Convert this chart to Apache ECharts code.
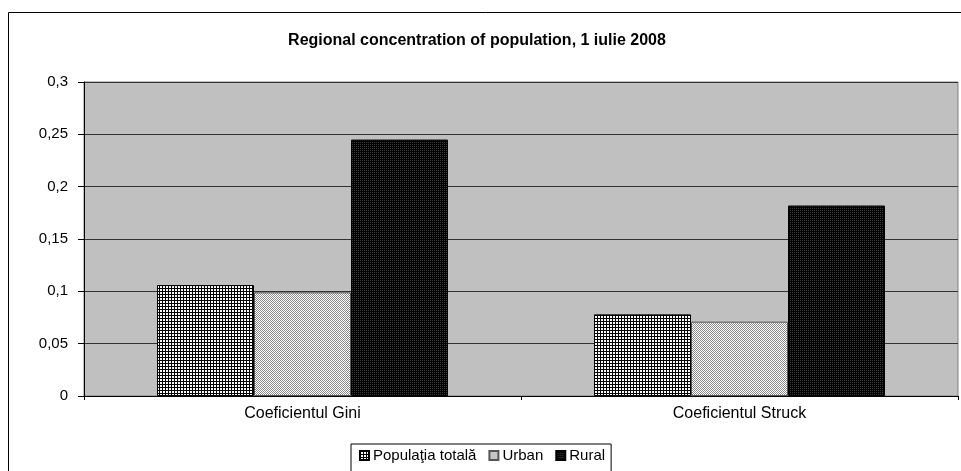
<!DOCTYPE html>
<html lang="ro">
<head>
    <meta charset="UTF-8">
    <title>Regional concentration of population</title>
    <script src="https://cdn.jsdelivr.net/npm/echarts@6/dist/echarts.min.js"></script>
    <style>
        * { margin: 0; padding: 0 }
        html, body { width: 100%; height: 100%; background: #fff; }
        #main { width: 961px; height: 471px; }
    </style>
</head>
<body>
<div id="main"></div>
<script type="text/javascript">
    // data
    var categories = ['Coeficientul Gini', 'Coeficientul Struck'];
    var seriesNames = ['Populaţia totală', 'Urban', 'Rural'];
    var populatie = [0.106, 0.078];
    var urban = [0.099, 0.071];
    var rural = [0.245, 0.182];
    var yTicks = [0, 0.05, 0.1, 0.15, 0.2, 0.25, 0.3];

    // small tiles to imitate the old Excel hatch fills
    function makeTile(size, draw) {
        var c = document.createElement('canvas');
        c.width = size;
        c.height = size;
        draw(c.getContext('2d'));
        return {image: c, repeat: 'repeat'};
    }
    var gridFill = makeTile(3, function (g) {
        g.fillStyle = '#fff';
        g.fillRect(0, 0, 3, 3);
        g.fillStyle = '#000';
        g.fillRect(0, 0, 3, 1);
        g.fillRect(0, 0, 1, 3);
    });
    var dotFill = makeTile(2, function (g) {
        g.fillStyle = '#fff';
        g.fillRect(0, 0, 2, 2);
        g.fillStyle = '#8c8c8c';
        g.fillRect(0, 0, 1, 1);
        g.fillRect(1, 1, 1, 1);
    });
    var darkFill = makeTile(2, function (g) {
        g.fillStyle = '#000';
        g.fillRect(0, 0, 2, 2);
        g.fillStyle = '#3a3a3a';
        g.fillRect(0, 0, 1, 1);
    });

    var font = 'Liberation Sans, Arial, sans-serif';
    var myChart = echarts.init(document.getElementById('main'));

    var option = {
        animation: false,
        textStyle: {fontFamily: font},
        title: {
            text: 'Regional concentration of population, 1 iulie 2008',
            left: 472,
            textAlign: 'center',
            top: 28,
            textStyle: {fontSize: 16, fontWeight: 'bold', color: '#000', fontFamily: font}
        },
        graphic: [{
            type: 'rect',
            silent: true,
            shape: {x: 8.5, y: 12.5, width: 1000, height: 1000},
            style: {fill: 'none', stroke: '#000', lineWidth: 1}
        }],
        legend: {
            data: seriesNames,
            left: 351,
            top: 444,
            itemWidth: 9,
            itemHeight: 9,
            itemGap: 12,
            padding: [4, 6, 12, 8],
            borderColor: '#000',
            borderWidth: 1,
            backgroundColor: '#fff',
            icon: 'rect',
            textStyle: {fontSize: 15, color: '#000', fontFamily: font, padding: [0, 0, 0, -1]}
        },
        grid: {
            left: 84,
            right: 3,
            top: 82,
            bottom: 75,
            show: true,
            backgroundColor: '#c0c0c0',
            borderColor: '#808080',
            borderWidth: 1
        },
        xAxis: {
            type: 'category',
            data: categories,
            axisLine: {lineStyle: {color: '#000', width: 1}},
            axisTick: {show: true, length: 4, lineStyle: {color: '#000'}},
            axisLabel: {fontSize: 16, color: '#000', margin: 10, fontFamily: font}
        },
        yAxis: {
            type: 'value',
            min: yTicks[0],
            max: yTicks[yTicks.length - 1],
            interval: yTicks[1] - yTicks[0],
            axisLine: {show: true, lineStyle: {color: '#000', width: 1}},
            axisTick: {show: true, length: 6, lineStyle: {color: '#000'}},
            splitLine: {lineStyle: {color: '#333', width: 1}},
            axisLabel: {
                fontSize: 15,
                color: '#000',
                margin: 16,
                fontFamily: font,
                formatter: function (v) {
                    return String(+v.toFixed(2)).replace('.', ',');
                }
            }
        },
        series: [{
            name: seriesNames[0],
            type: 'bar',
            barWidth: 97,
            barGap: '0%',
            data: populatie,
            itemStyle: {color: gridFill, borderColor: '#000', borderWidth: 1}
        }, {
            name: seriesNames[1],
            type: 'bar',
            barWidth: 97,
            barGap: '0%',
            data: urban,
            itemStyle: {color: dotFill, borderColor: '#555', borderWidth: 1}
        }, {
            name: seriesNames[2],
            type: 'bar',
            barWidth: 97,
            barGap: '0%',
            data: rural,
            itemStyle: {color: darkFill, borderColor: '#000', borderWidth: 1}
        }]
    };

    myChart.setOption(option);
</script>
</body>
</html>
